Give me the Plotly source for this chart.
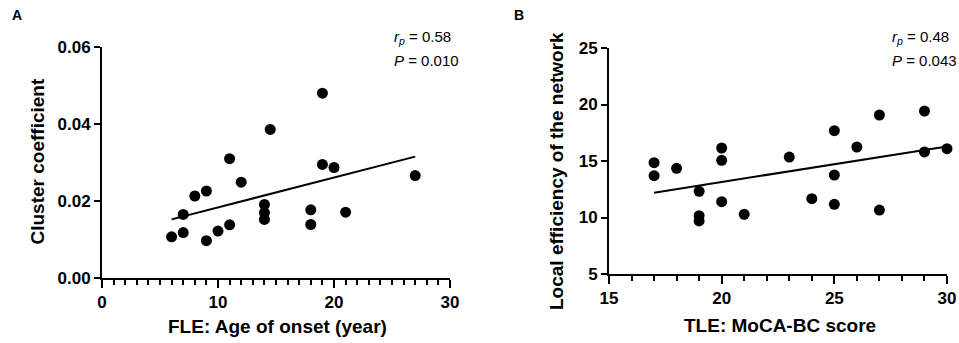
import numpy as np
import plotly.graph_objects as go

# Panel A data: FLE age of onset vs cluster coefficient
a_x = [6, 7, 7, 8, 9, 9, 10, 11, 11, 12, 14, 14, 14, 14.5, 18, 18, 19, 19, 20, 21, 27]
a_y = [0.0107, 0.0165, 0.0118, 0.0213, 0.0226, 0.0097, 0.0122, 0.0138, 0.0310, 0.0249,
       0.0191, 0.0170, 0.0152, 0.0386, 0.0177, 0.0139, 0.0480, 0.0295, 0.0287, 0.0171, 0.0266]

# Panel B data: TLE MoCA-BC score vs local efficiency
b_x = [17, 17, 18, 19, 19, 19, 20, 20, 20, 21, 23, 24, 25, 25, 25, 26, 27, 27, 29, 29, 30]
b_y = [14.85, 13.7, 14.35, 12.32, 10.16, 9.7, 16.15, 15.06, 11.4, 10.28, 15.35, 11.67,
       17.68, 13.76, 11.17, 16.24, 19.07, 10.66, 19.42, 15.8, 16.09]

a_ticks_y = [0, 0.02, 0.04, 0.06]
a_ticklabels_y = ["0.00", "0.02", "0.04", "0.06"]
a_ticks_x = [0, 10, 20, 30]
b_ticks_y = [5, 10, 15, 20, 25]
b_ticks_x = [15, 20, 25, 30]

FONT = "Arial, 'Liberation Sans', sans-serif"
W, H = 959, 343

def fit_line(x, y):
    k, b = np.polyfit(x, y, 1)
    xs = [min(x), max(x)]
    return xs, [k * v + b for v in xs]

fig = go.Figure()

ax_fx, ax_fy = fit_line(a_x, a_y)
bx_fx, bx_fy = fit_line(b_x, b_y)

fig.add_trace(go.Scatter(x=a_x, y=a_y, mode="markers", xaxis="x", yaxis="y",
                         marker=dict(color="black", size=11), cliponaxis=False, showlegend=False))
fig.add_trace(go.Scatter(x=ax_fx, y=ax_fy, mode="lines", xaxis="x", yaxis="y",
                         line=dict(color="black", width=2), showlegend=False))
fig.add_trace(go.Scatter(x=b_x, y=b_y, mode="markers", xaxis="x2", yaxis="y2",
                         marker=dict(color="black", size=11), cliponaxis=False, showlegend=False))
fig.add_trace(go.Scatter(x=bx_fx, y=bx_fy, mode="lines", xaxis="x2", yaxis="y2",
                         line=dict(color="black", width=2), showlegend=False))

def px(xp):
    return xp / W

def py(yp):
    return (H - yp) / H

axis_common = dict(showline=True, linecolor="black", linewidth=2, ticks="outside",
                   tickcolor="black", tickwidth=2, showgrid=False, zeroline=False,
                   tickfont=dict(family=FONT, size=17, color="black", weight="bold"),
                   mirror=False, automargin=False)

fig.update_layout(
    width=W, height=H, margin=dict(l=0, r=0, t=0, b=0, autoexpand=False),
    paper_bgcolor="white", plot_bgcolor="white",
    xaxis=dict(domain=[px(102), px(450)], range=[0, 30], tickvals=a_ticks_x, ticklen=8,
               minor=dict(dtick=1, ticklen=5, tickwidth=2, tickcolor="black", ticks="outside"),
               anchor="y", **axis_common),
    yaxis=dict(domain=[py(278), py(47)], range=[0, 0.06], tickvals=a_ticks_y,
               ticktext=a_ticklabels_y, ticklen=6, anchor="x", **axis_common),
    xaxis2=dict(domain=[px(609), px(947)], range=[15, 30], tickvals=b_ticks_x, ticklen=8,
                minor=dict(dtick=1, ticklen=5, tickwidth=2, tickcolor="black", ticks="outside"),
                anchor="y2", **axis_common),
    yaxis2=dict(domain=[py(274), py(48)], range=[5, 25], tickvals=b_ticks_y, ticklen=6,
                anchor="x2", **axis_common),
)

ann_font = dict(family=FONT, size=15, color="black")
title_font = dict(family=FONT, size=19, color="black", weight="bold")
letter_font = dict(family=FONT, size=14, color="black", weight="bold")
anns = [
    dict(text="A", x=px(10), y=py(15), xanchor="left", yanchor="middle", font=letter_font),
    dict(text="B", x=px(512), y=py(15), xanchor="left", yanchor="middle", font=letter_font),
    dict(text="<i>r</i><sub><i>p</i></sub> = 0.58", x=px(392), y=py(38), xanchor="left",
         yanchor="middle", font=ann_font),
    dict(text="<i>P</i> = 0.010", x=px(392), y=py(60), xanchor="left", yanchor="middle",
         font=ann_font),
    dict(text="<i>r</i><sub><i>p</i></sub> = 0.48", x=px(890), y=py(38), xanchor="left",
         yanchor="middle", font=ann_font),
    dict(text="<i>P</i> = 0.043", x=px(890), y=py(60), xanchor="left", yanchor="middle",
         font=ann_font),
    dict(text="Cluster coefficient", x=px(37.5), y=py(162), textangle=-90,
         xanchor="center", yanchor="middle", font=title_font),
    dict(text="Local efficiency of the network", x=px(557), y=py(171), textangle=-90,
         xanchor="center", yanchor="middle", font=title_font),
    dict(text="FLE: Age of onset (year)", x=px(277), y=py(326), xanchor="center",
         yanchor="middle", font=title_font),
    dict(text="TLE: MoCA-BC score", x=px(780), y=py(325), xanchor="center",
         yanchor="middle", font=title_font),
]
for a in anns:
    a.update(xref="paper", yref="paper", showarrow=False)
fig.update_layout(annotations=anns)

fig.write_html("out.html", config={"displayModeBar": False},
               post_script="document.body.style.margin='0';document.body.style.overflow='hidden';")
